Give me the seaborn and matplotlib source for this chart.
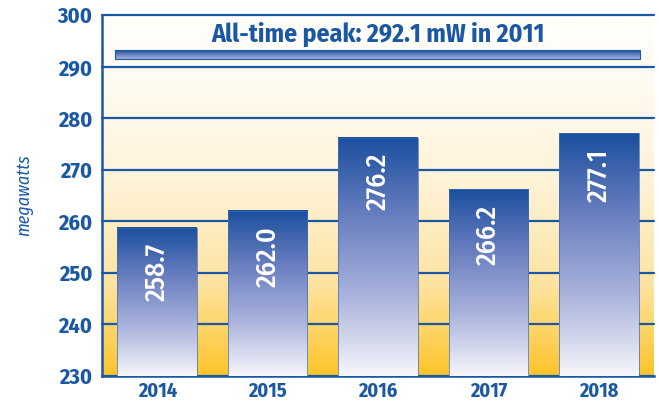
import numpy as np
import pandas as pd
import matplotlib
matplotlib.use("Agg")
import matplotlib.pyplot as plt
from matplotlib.colors import LinearSegmentedColormap
import seaborn as sns

# chart data
years = ["2014", "2015", "2016", "2017", "2018"]
peak_mw = [258.7, 262.0, 276.2, 266.2, 277.1]
banner_text = "All-time peak: 292.1 mW in 2011"
y_ticks = [230, 240, 250, 260, 270, 280, 290, 300]

blue = "#1a58a6"
bar_cmap = LinearSegmentedColormap.from_list("bar", ["#1b4f9e", "#6a7fc0", "#aab3dc", "#f6f6fb"])
bg_cmap = LinearSegmentedColormap.from_list("bg", ["#fffefb", "#fff3d8", "#fde3a0", "#fec42a"])
band_cmap = LinearSegmentedColormap.from_list("band", ["#1b4f9e", "#a9b3de"])

sns.set_style("white")
plt.rcParams["font.family"] = ["Fira Sans Condensed", "DejaVu Sans"]

df = pd.DataFrame({"year": years, "mw": peak_mw})

fig = plt.figure(figsize=(6.59, 4.04), dpi=100)
ax = fig.add_axes([102 / 659, 28 / 404, 552 / 659, 361 / 404])

sns.barplot(data=df, x="year", y="mw", ax=ax, width=0.72, color="#1b4f9e", zorder=3)

ymin, ymax = 230, 300
# background gradient (row 0 = top)
grad = np.linspace(0, 1, 256).reshape(-1, 1) ** 1.4
ax.imshow(grad, cmap=bg_cmap, extent=[-0.5, 4.5, ymin, ymax], aspect="auto", zorder=0)

# gradient bars
for p in ax.patches:
    x0, w = p.get_x(), p.get_width()
    top = p.get_y() + p.get_height()
    g = np.linspace(0, 1, 256).reshape(-1, 1)
    ax.imshow(g, cmap=bar_cmap, extent=[x0, x0 + w, ymin, top], aspect="auto", zorder=3)
    p.set_facecolor("none")
    p.set_edgecolor("#3c6db3")
    p.set_linewidth(0.5)
    p.set_zorder(4)

for i, v in enumerate(peak_mw):
    ax.annotate(f"{v:.1f}", (i, v), xytext=(0, -11), textcoords="offset points",
                rotation=90, ha="center", va="top", color="white", fontsize=20,
                fontweight="medium", zorder=5)

# banner
ax.imshow(np.linspace(0, 1, 64).reshape(-1, 1), cmap=band_cmap,
          extent=[-0.382, 4.373, 291.5, 293.2], aspect="auto", zorder=3)
ax.add_patch(plt.Rectangle((-0.382, 291.5), 4.755, 1.7, fill=False, ec=blue, lw=0.8, zorder=4))
ax.text(2.0, 296.3, banner_text, ha="center", va="center", color=blue,
        fontsize=18.5, fontweight="bold", zorder=5)

ax.set_xlim(-0.5, 4.5)
ax.set_ylim(ymin, ymax)
ax.set_yticks(y_ticks)
for y in y_ticks:
    ax.axhline(y, color=blue, lw=1.6, zorder=1, clip_on=False)

for s in ["top", "right"]:
    ax.spines[s].set_visible(False)
ax.spines["left"].set_color(blue)
ax.spines["left"].set_linewidth(1.8)
ax.spines["bottom"].set_color(blue)
ax.spines["bottom"].set_linewidth(1.8)
ax.spines["bottom"].set_zorder(2)

ax.set_xticks([0.5, 1.5, 2.5, 3.5], minor=True)
ax.tick_params(axis="x", which="minor", direction="in", length=4, width=1.6, color=blue)
ax.tick_params(axis="x", which="major", length=0, pad=4, labelsize=14.5, labelcolor=blue)
ax.tick_params(axis="y", length=0, pad=7, labelsize=16, labelcolor=blue)
for lab in ax.get_xticklabels() + ax.get_yticklabels():
    lab.set_fontweight("bold")

ax.set_xlabel("")
ax.set_ylabel("megawatts", color=blue, fontsize=13, style="italic", labelpad=17)

fig.savefig("out.png", dpi=100)
